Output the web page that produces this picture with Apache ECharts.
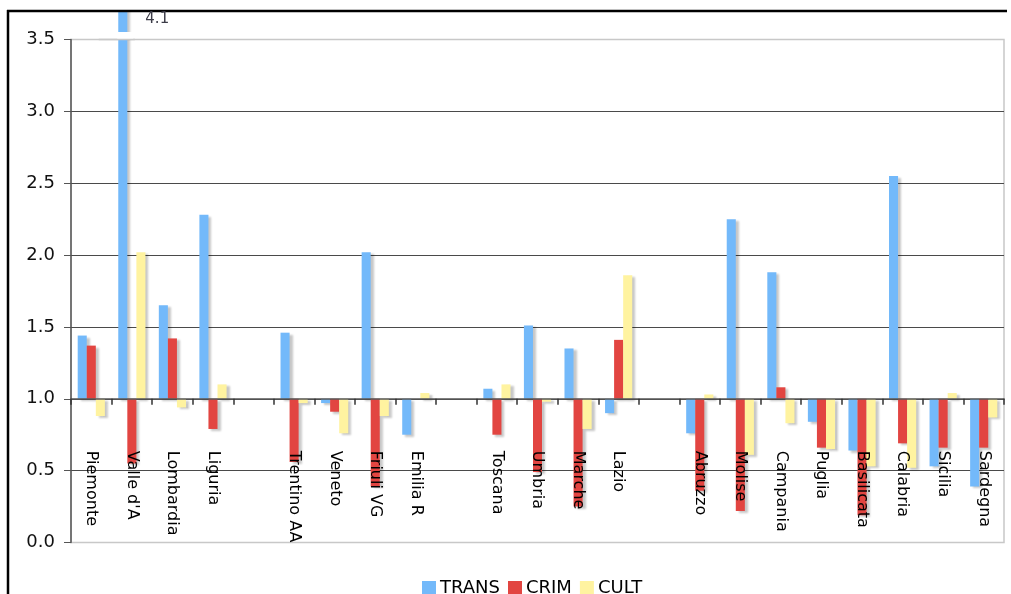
<!DOCTYPE html>
<html>
<head>
<meta charset="utf-8">
<script src="https://cdn.jsdelivr.net/npm/echarts@6/dist/echarts.min.js"></script>
<style>
  html, body { margin: 0; padding: 0; background: #fff; }
  #chart { width: 1011px; height: 594px; }
</style>
</head>
<body>
<div id="chart"></div>
<script>
// Regional indices (1.0 = national average); empty names separate the macro-areas
const regions = ['Piemonte', "Valle d'A", 'Lombardia', 'Liguria', '',
  'Trentino AA', 'Veneto', 'Friuli VG', 'Emilia R', '',
  'Toscana', 'Umbria', 'Marche', 'Lazio', '',
  'Abruzzo', 'Molise', 'Campania', 'Puglia', 'Basilicata', 'Calabria', 'Sicilia', 'Sardegna'];
const trans = [1.44, 4.1, 1.65, 2.28, null, 1.46, 0.97, 2.02, 0.75, null, 1.07, 1.51, 1.35, 0.90, null, 0.76, 2.25, 1.88, 0.84, 0.64, 2.55, 0.53, 0.39];
const crim  = [1.37, 0.55, 1.42, 0.79, null, 0.56, 0.91, 0.39, 1.00, null, 0.75, 0.49, 0.25, 1.41, null, 0.36, 0.22, 1.08, 0.66, 0.19, 0.69, 0.66, 0.66];
const cult  = [0.88, 2.02, 0.94, 1.10, null, 0.97, 0.76, 0.88, 1.04, null, 1.10, 0.98, 0.79, 1.86, null, 1.03, 0.61, 0.83, 0.65, 0.53, 0.52, 1.04, 0.87];
const yTicks = [0.0, 0.5, 1.0, 1.5, 2.0, 2.5, 3.0, 3.5];
const seriesNames = ['TRANS', 'CRIM', 'CULT'];
const colors = ['#73b9fa', '#e24541', '#fff3a0'];

// Bars grow up or down from the 1.0 reference level
const BASE = 1.0;
const shift = arr => arr.map(v => (v == null ? null : +(v - BASE).toFixed(4)));
const CAT_GAP = 0.33;
const FONT = 'DejaVu Sans';

const W = 1011, H = 594;
const GRID = { left: 71, right: 7, top: 39.5, bottom: 51.5 };
const yMin = yTicks[0], yMax = yTicks[yTicks.length - 1];
// lift the category axis from the bottom edge up to the 1.0 level
const gridH = H - GRID.top - GRID.bottom;
const axisLift = -gridH * (BASE - yMin) / (yMax - yMin);

const chart = echarts.init(document.getElementById('chart'), null, { renderer: 'canvas' });

const barStyle = color => ({
  color: color,
  shadowColor: 'rgba(0,0,0,0.22)',
  shadowBlur: 2,
  shadowOffsetX: 3,
  shadowOffsetY: 2
});

chart.setOption({
  animation: false,
  backgroundColor: '#fff',
  grid: Object.assign({
    containLabel: false, outerBoundsMode: 'none',
    show: true, borderColor: '#c8c8c8', borderWidth: 1.5, backgroundColor: '#fff'
  }, GRID),
  legend: {
    data: seriesNames,
    left: 417, top: 574,
    icon: 'rect', itemWidth: 14, itemHeight: 14, itemGap: 8,
    itemStyle: { shadowColor: 'rgba(0,0,0,0)', shadowBlur: 0 },
    textStyle: { fontFamily: FONT, fontSize: 18, color: '#000', padding: [0, 0, 0, -1] }
  },
  xAxis: {
    type: 'category',
    data: regions,
    z: 5,
    position: 'bottom',
    offset: axisLift,
    boundaryGap: true,
    axisLine: { show: true, onZero: false, lineStyle: { color: '#555', width: 1.5 } },
    axisTick: { show: true, interval: 0, alignWithLabel: false, length: 6, lineStyle: { color: '#333', width: 1.5 } },
    axisLabel: {
      interval: 0, rotate: -90, margin: 52,
      fontFamily: FONT, fontSize: 16, color: '#000'
    }
  },
  yAxis: {
    type: 'value',
    min: yMin - BASE,
    max: yMax - BASE,
    interval: yTicks[1] - yTicks[0],
    axisLine: { show: true, lineStyle: { color: '#555', width: 1.5 } },
    axisTick: { show: true, length: 7, lineStyle: { color: '#555' } },
    axisLabel: {
      margin: 16, fontFamily: FONT, fontSize: 18, color: '#111',
      formatter: v => (v + BASE).toFixed(1)
    },
    splitLine: { show: true, showMinLine: false, showMaxLine: false, lineStyle: { color: '#4a4a4a', width: 1.2 } }
  },
  series: [trans, crim, cult].map((arr, i) => ({
    name: seriesNames[i],
    type: 'bar',
    data: shift(arr),
    clip: false,
    barGap: '0%',
    barCategoryGap: (CAT_GAP * 100) + '%',
    itemStyle: barStyle(colors[i])
  }))
});

// Valle d'A transport bar runs past the top of the scale: draw a break and its value
const vIdx = 1;
const topVal = yMax - BASE;
const p = chart.convertToPixel({ gridIndex: 0 }, [vIdx, topVal]);
const pNext = chart.convertToPixel({ gridIndex: 0 }, [vIdx + 1, topVal]);
const catW = pNext[0] - p[0];
const barW = catW * (1 - CAT_GAP) / 3;
const bx = p[0] - barW;

chart.setOption({
  graphic: [
    { type: 'rect', z: 100, shape: { x: 0, y: 0, width: W, height: 10 }, style: { fill: '#fff' } },
    { type: 'line', z: 101, shape: { x1: 7, y1: 11, x2: 1007, y2: 11 }, style: { stroke: '#000', lineWidth: 2.5 } },
    { type: 'line', z: 101, shape: { x1: 8, y1: 10, x2: 8, y2: H }, style: { stroke: '#000', lineWidth: 2.5 } },
    { type: 'rect', z: 100, shape: { x: bx - barW / 2 - 1, y: p[1] - 7.5, width: barW + 7, height: 7 }, style: { fill: '#fff' } },
    { type: 'line', z: 101, shape: { x1: bx - 24, y1: p[1], x2: bx + 12, y2: p[1] }, style: { stroke: '#c8c8c8', lineWidth: 1.5 } },
    { type: 'text', z: 101, x: bx + barW / 2 + 18, y: 12,
      style: { text: String(trans[vIdx]), fill: '#3c3c48', font: '15px "DejaVu Sans"' } }
  ]
});
</script>
</body>
</html>
